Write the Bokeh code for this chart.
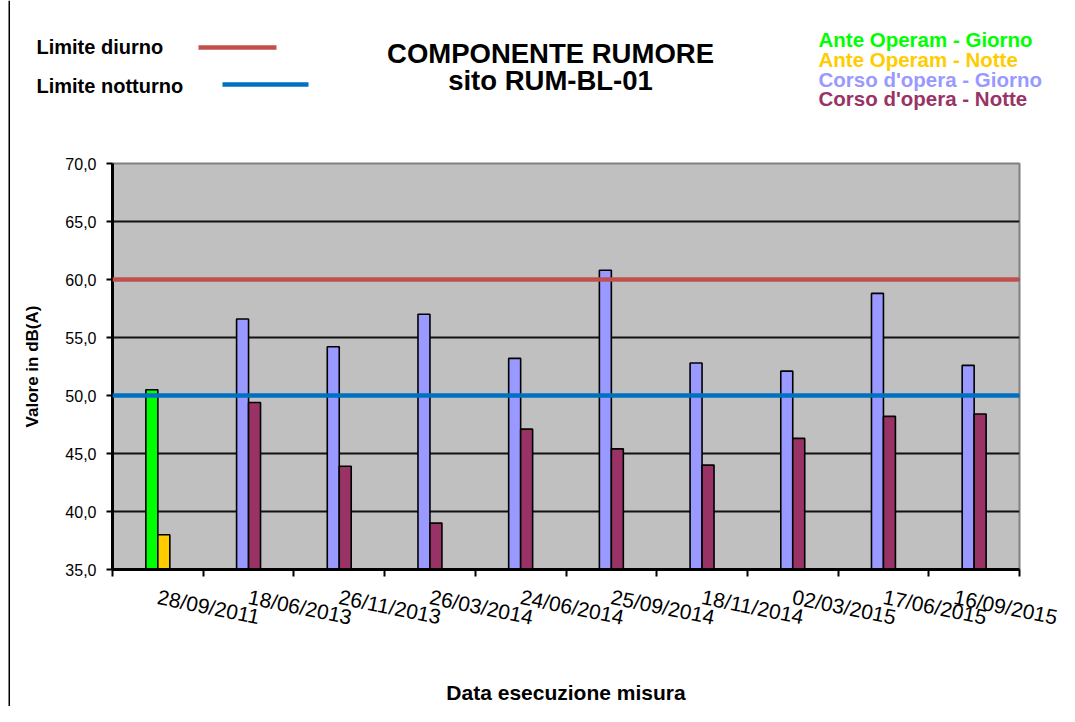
from bokeh.plotting import figure
from bokeh.layouts import column, row
from bokeh.models import (Range1d, FixedTicker, Span, ColumnDataSource,
                          CustomJSTickFormatter)
from bokeh.core.properties import value
from bokeh.transform import dodge
from bokeh.embed import file_html
from bokeh.resources import INLINE

# ---------------- data ----------------
dates = ["28/09/2011", "18/06/2013", "26/11/2013", "26/03/2014", "24/06/2014",
         "25/09/2014", "18/11/2014", "02/03/2015", "17/06/2015", "16/09/2015"]
fase = ["Ante Operam"] + ["Corso d'opera"] * 9
giorno = [50.5, 56.6, 54.2, 57.0, 53.2, 60.8, 52.8, 52.1, 58.8, 52.6]
notte = [38.0, 49.4, 43.9, 39.0, 47.1, 45.4, 44.0, 46.3, 48.2, 48.4]
limite_diurno = 60.0
limite_notturno = 50.0
y_ticks = [35, 40, 45, 50, 55, 60, 65, 70]

col_giorno = {"Ante Operam": "#00FF00", "Corso d'opera": "#9999FF"}
col_notte = {"Ante Operam": "#FFCC00", "Corso d'opera": "#993366"}
legend_items = [("Ante Operam - Giorno", "#00FF00"),
                ("Ante Operam - Notte", "#FFCC00"),
                ("Corso d'opera - Giorno", "#9999FF"),
                ("Corso d'opera - Notte", "#993366")]
limit_items = [("Limite diurno", "#C0504D"), ("Limite notturno", "#0070C0")]
title_lines = ["COMPONENTE RUMORE", "sito RUM-BL-01"]

FONT = "Liberation Sans"
TOTAL_W = 1059
TOTAL_H = 706
STRIP_W = 10
W = TOTAL_W - STRIP_W
TOP_H = 140
MAIN_H = TOTAL_H - TOP_H


def bare(fig):
    fig.axis.visible = False
    fig.grid.visible = False
    fig.outline_line_color = None
    fig.background_fill_color = "white"
    fig.border_fill_color = "white"
    fig.frame_align = False


# ---------------- left border strip ----------------
strip = figure(width=STRIP_W, height=TOTAL_H, output_backend="svg", toolbar_location=None,
               x_range=Range1d(0, STRIP_W), y_range=Range1d(TOTAL_H, 0),
               min_border=0, min_border_left=0, min_border_right=0,
               min_border_top=0, min_border_bottom=0)
bare(strip)
strip.segment(x0=[9], y0=[0], x1=[9], y1=[TOTAL_H], line_color="black", line_width=2)

# ---------------- header (titles + legends) ----------------
hdr = figure(width=W, height=TOP_H, output_backend="svg", toolbar_location=None,
             x_range=Range1d(STRIP_W, TOTAL_W), y_range=Range1d(TOP_H, 0),
             min_border=0, min_border_left=0, min_border_right=0,
             min_border_top=0, min_border_bottom=0)
bare(hdr)

hdr.text(x=[550, 550], y=[53, 80], text=title_lines,
         text_font=value(FONT), text_font_size="27.5px", text_font_style="bold",
         text_color="black", text_align="center", text_baseline="middle")

hdr.text(x=[36, 36], y=[46, 85], text=[t for t, _ in limit_items],
         text_font=value(FONT), text_font_size="20px", text_font_style="bold",
         text_color="black", text_align="left", text_baseline="middle")
hdr.segment(x0=[198, 222], y0=[47, 84], x1=[276, 308], y1=[47, 84],
            line_color=[c for _, c in limit_items], line_width=4.5)

hdr.text(x=[818] * 4, y=[39, 58.5, 78.5, 98],
         text=[t for t, _ in legend_items], text_color=[c for _, c in legend_items],
         text_font=value(FONT), text_font_size="20.5px", text_font_style="bold",
         text_align="left", text_baseline="middle")

# ---------------- main chart ----------------
src = ColumnDataSource(dict(
    x=[i + 0.5 for i in range(len(dates))],
    giorno=giorno, notte=notte,
    cg=[col_giorno[f] for f in fase],
    cn=[col_notte[f] for f in fase],
))

FRAME_LEFT = 112 - STRIP_W
FRAME_TOP = 163 - TOP_H
p = figure(width=W, height=MAIN_H, output_backend="svg", toolbar_location=None,
           x_range=Range1d(0, len(dates)), y_range=Range1d(35, 70),
           min_border_left=FRAME_LEFT, min_border_right=W - FRAME_LEFT - 907,
           min_border_top=FRAME_TOP, min_border_bottom=MAIN_H - FRAME_TOP - 415)
p.frame_align = False

p.background_fill_color = "#C0C0C0"
p.border_fill_color = "white"
p.outline_line_color = "#808080"
p.outline_line_width = 2

p.xgrid.visible = False
p.ygrid.ticker = FixedTicker(ticks=y_ticks)
p.ygrid.grid_line_color = "#111111"
p.ygrid.grid_line_width = 1.8

p.vbar(x=dodge("x", -0.066, range=p.x_range), top="giorno", bottom=35, width=0.132,
       fill_color="cg", line_color="black", line_width=1.6, source=src)
p.vbar(x=dodge("x", 0.066, range=p.x_range), top="notte", bottom=35, width=0.132,
       fill_color="cn", line_color="black", line_width=1.6, source=src)

p.add_layout(Span(location=limite_diurno, dimension="width",
                  line_color="#C0504D", line_width=4.5))
p.add_layout(Span(location=limite_notturno, dimension="width",
                  line_color="#0070C0", line_width=4.5))

# x axis
xa = p.xaxis[0]
xa.ticker = FixedTicker(ticks=[i + 0.5 for i in range(len(dates))],
                        minor_ticks=list(range(len(dates) + 1)))
xa.formatter = CustomJSTickFormatter(args=dict(labels=dates),
                                     code="return labels[Math.floor(tick)] || '';")
xa.major_label_orientation = -0.2
xa.major_tick_out = 0
xa.major_tick_in = 0
xa.minor_tick_out = 7
xa.minor_tick_in = 0
xa.minor_tick_line_color = "black"
xa.minor_tick_line_width = 2
xa.axis_line_color = "black"
xa.axis_line_width = 3
xa.major_label_text_font = FONT
xa.major_label_text_font_size = "21px"
xa.major_label_text_color = "black"
xa.major_label_standoff = 20
xa.axis_label = "Data esecuzione misura"
xa.axis_label_text_font = FONT
xa.axis_label_text_font_size = "21px"
xa.axis_label_text_font_style = "bold"
xa.axis_label_text_color = "black"
xa.axis_label_standoff = 38

# y axis
ya = p.yaxis[0]
ya.ticker = FixedTicker(ticks=y_ticks)
ya.formatter = CustomJSTickFormatter(code="return tick.toFixed(1).replace('.', ',');")
ya.major_tick_out = 6
ya.major_tick_in = 0
ya.minor_tick_out = 0
ya.minor_tick_in = 0
ya.major_tick_line_color = "black"
ya.major_tick_line_width = 2
ya.axis_line_color = "black"
ya.axis_line_width = 3
ya.major_label_text_font = FONT
ya.major_label_text_font_size = "16px"
ya.major_label_text_color = "black"
ya.major_label_standoff = 10
ya.axis_label = "Valore in dB(A)"
ya.axis_label_text_font = FONT
ya.axis_label_text_font_size = "17px"
ya.axis_label_text_font_style = "bold"
ya.axis_label_text_color = "black"
ya.axis_label_standoff = 20

layout = row(strip, column(hdr, p, spacing=0), spacing=0)
open("out.html", "w").write(file_html(layout, INLINE))
